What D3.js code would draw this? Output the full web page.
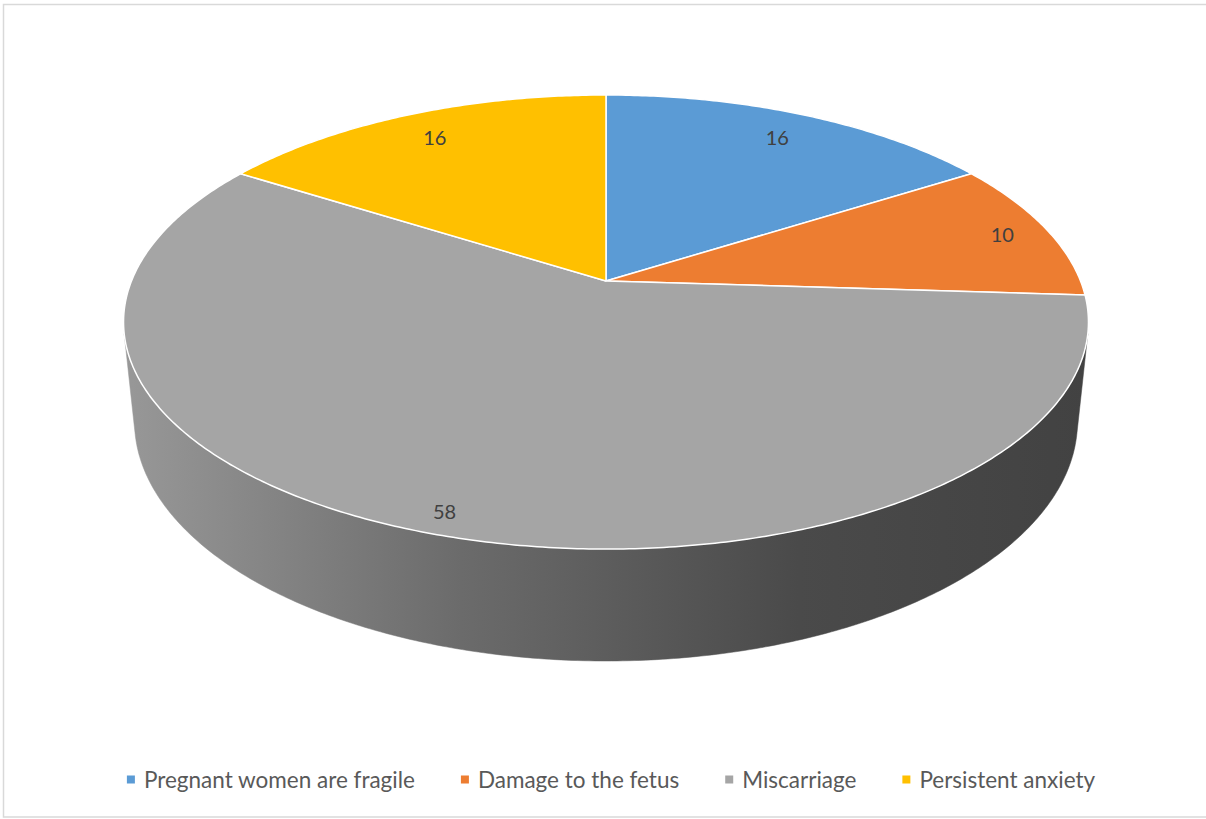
<!DOCTYPE html>
<html>
<head>
<meta charset="utf-8">
<script src="https://cdn.jsdelivr.net/npm/d3@7"></script>
<style>
  html, body { margin: 0; padding: 0; background: #fff; }
  svg { display: block; }
</style>
</head>
<body>
<svg id="chart" width="1206" height="819"></svg>
<script>
// ---- data ----
const categories = ["Pregnant women are fragile", "Damage to the fetus", "Miscarriage", "Persistent anxiety"];
const values = [16, 10, 58, 16];
const colors = ["#5B9BD5", "#ED7D31", "#A5A5A5", "#FFC000"];

// ---- layout / camera ----
const W = 1206, H = 819;
const cx = 606, cy = 281;          // screen position of pie centre
const F = 2328;                    // focal length (px)
const L = 4.906;                   // camera distance (pie radii)
const sinP = 0.4628, cosP = Math.sqrt(1 - sinP * sinP); // pitch
const thick = 0.2384;              // thickness (pie radii)

function proj(r, t, Y) {
  const x = r * Math.sin(t), z = -r * Math.cos(t);
  const den = L - Y * sinP - z * cosP;
  return [cx + F * x / den, cy - F * (Y * cosP - z * sinP) / den];
}

const svg = d3.select("#chart");
svg.append("rect").attr("x", 3.5).attr("y", 4.5).attr("width", 1205).attr("height", 812.5)
  .attr("fill", "#fff").attr("stroke", "#D9D9D9").attr("stroke-width", 1.5);

const pie = d3.pie().sort(null).value(d => d)(values);

function arcPts(r, a0, a1, Y) {
  const n = Math.max(2, Math.ceil(Math.abs(a1 - a0) / 0.01));
  const pts = [];
  for (let i = 0; i <= n; i++) pts.push(proj(r, a0 + (a1 - a0) * i / n, Y));
  return pts;
}

const defs = svg.append("defs");
const line = d3.line();

// visible side range
const th0 = Math.acos(-1 / (L * cosP));
const visA = th0, visB = 2 * Math.PI - th0;

const gSide = svg.append("g");
pie.forEach((p, i) => {
  const a0 = Math.max(p.startAngle, visA), a1 = Math.min(p.endAngle, visB);
  if (a1 <= a0) return;
  const gid = "side" + i;
  const grad = defs.append("linearGradient").attr("id", gid)
    .attr("gradientUnits", "userSpaceOnUse")
    .attr("x1", cx - 482).attr("x2", cx + 482).attr("y1", 0).attr("y2", 0);
  const mix = d3.interpolateRgb(colors[i], "#000");
  [[0, 0.08], [0.35, 0.35], [0.7, 0.55], [1, 0.6]].forEach(([o, t]) =>
    grad.append("stop").attr("offset", o).attr("stop-color", mix(t)));
  const top = arcPts(1, a0, a1, 0);
  const bot = arcPts(1, a0, a1, -thick).reverse();
  gSide.append("path").attr("d", line(top.concat(bot)) + "Z")
    .attr("fill", `url(#${gid})`).attr("stroke", `url(#${gid})`).attr("stroke-width", 0.5);
});

// top face
const gTop = svg.append("g");
pie.forEach((p, i) => {
  const pts = [proj(0, 0, 0)].concat(arcPts(1, p.startAngle, p.endAngle, 0));
  gTop.append("path").attr("d", line(pts) + "Z")
    .attr("fill", colors[i]).attr("stroke", "#fff").attr("stroke-width", 1.5)
    .attr("stroke-linejoin", "round");
});

// data labels (inside-end style placement)
const gLab = svg.append("g");
pie.forEach((p, i) => {
  const mid = (p.startAngle + p.endAngle) / 2;
  const r = 0.85 + 0.08 * Math.max(0, -Math.cos(mid)) + 0.1 * Math.max(0, Math.abs(Math.sin(mid)) - 0.5);
  const [x, y] = proj(r, mid, 0);
  gLab.append("text").attr("x", x).attr("y", y)
    .attr("text-anchor", "middle").attr("dominant-baseline", "central")
    .attr("font-family", "Lato, 'Open Sans', sans-serif").attr("font-size", 20)
    .attr("fill", "#404040").text(values[i]);
});

// legend
const gLeg = svg.append("g");
const items = categories.map((c, i) => {
  const g = gLeg.append("g");
  g.append("rect").attr("x", 0).attr("y", -4).attr("width", 8).attr("height", 8).attr("fill", colors[i]);
  const t = g.append("text").attr("x", 17).attr("y", 0).attr("dominant-baseline", "central")
    .attr("font-family", "Lato, 'Open Sans', sans-serif").attr("font-size", 22.5)
    .attr("fill", "#595959").text(c);
  return { g, w: 17 + t.node().getComputedTextLength() };
});
const gap = 46;
const total = d3.sum(items, d => d.w) + gap * (items.length - 1);
let xx = 611 - total / 2;
items.forEach(it => { it.g.attr("transform", `translate(${xx},779.5)`); xx += it.w + gap; });
</script>
</body>
</html>
